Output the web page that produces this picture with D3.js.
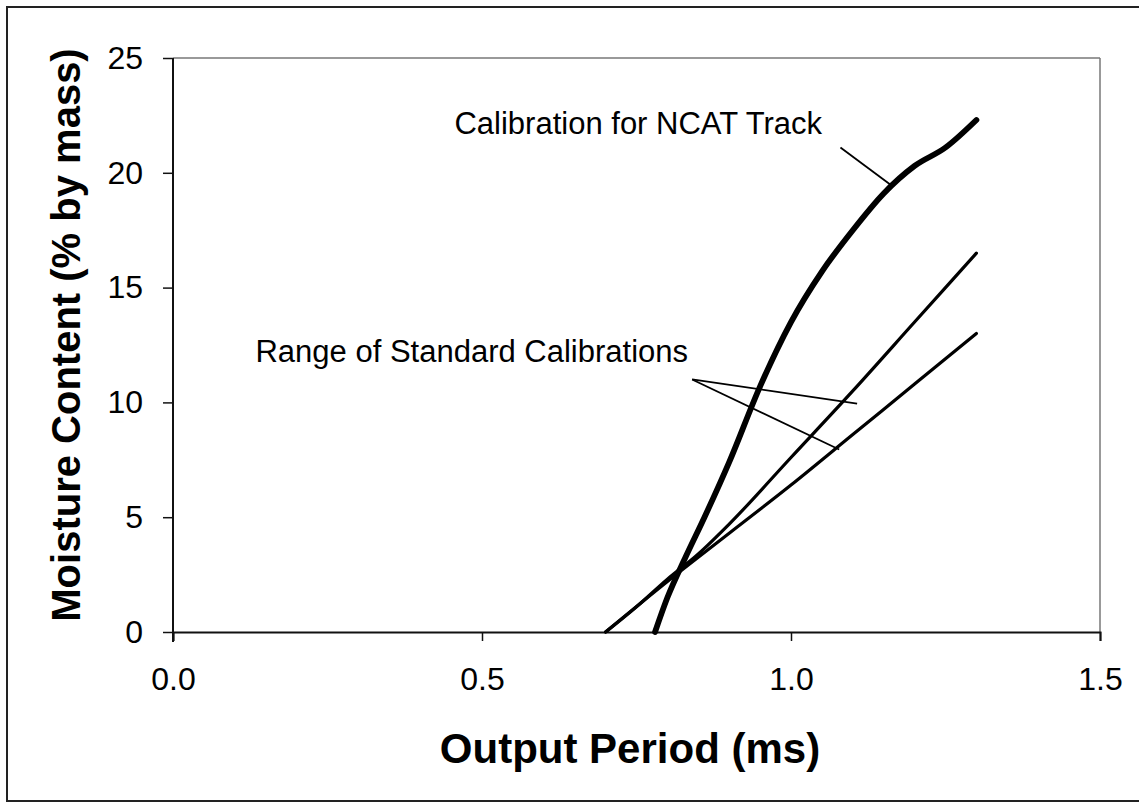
<!DOCTYPE html>
<html>
<head>
<meta charset="utf-8">
<script src="https://cdn.jsdelivr.net/npm/d3@7"></script>
<style>
  body { margin: 0; background: #fff; }
  svg text { font-family: "Liberation Sans", Arial, sans-serif; fill: #000; }
</style>
</head>
<body>
<svg id="chart" width="1139" height="803"></svg>
<script>
// NCAT track calibration (thick curve)
var ncatPeriod   = [0.78, 0.80, 0.83, 0.86, 0.90, 0.95, 1.00, 1.05, 1.10, 1.15, 1.20, 1.25, 1.30];
var ncatMoisture = [0.0, 1.5, 3.3, 5.0, 7.4, 10.7, 13.5, 15.7, 17.5, 19.1, 20.3, 21.1, 22.3];

// range of standard calibrations (two thin lines)
var stdHighPeriod   = [0.70, 0.75, 0.80, 0.85, 0.90, 1.00, 1.10, 1.20, 1.30];
var stdHighMoisture = [0.0, 1.1, 2.3, 3.4, 4.7, 7.6, 10.5, 13.5, 16.5];
var stdLowPeriod    = [0.70, 0.80, 0.90, 1.00, 1.10, 1.20, 1.30];
var stdLowMoisture  = [0.0, 2.2, 4.3, 6.4, 8.6, 10.8, 13.0];

var xTicks = [0, 0.5, 1.0, 1.5];
var yTicks = [0, 5, 10, 15, 20, 25];

var svg = d3.select("#chart"),
    width = +svg.attr("width"),
    height = +svg.attr("height");

var plot = {left: 173, right: 1100, top: 58, bottom: 632};

var x = d3.scaleLinear().domain([0, 1.5]).range([plot.left, plot.right]);
var y = d3.scaleLinear().domain([0, 25]).range([plot.bottom, plot.top]);

// outer frame
svg.append("rect")
    .attr("x", 7).attr("y", 7)
    .attr("width", 1140).attr("height", 794)
    .attr("fill", "none")
    .attr("stroke", "#222")
    .attr("stroke-width", 2);

// plot area frame (top / right are light and dotted in the scan)
svg.append("line")
    .attr("x1", plot.left).attr("x2", plot.right).attr("y1", plot.top).attr("y2", plot.top)
    .attr("stroke", "#777").attr("stroke-width", 1.5);
svg.append("line")
    .attr("x1", plot.right).attr("x2", plot.right).attr("y1", plot.top).attr("y2", plot.bottom)
    .attr("stroke", "#777").attr("stroke-width", 1.5);

var xAxis = svg.append("g")
    .attr("transform", "translate(0," + plot.bottom + ")")
    .call(d3.axisBottom(x).tickValues(xTicks).tickFormat(d3.format(".1f")).tickSize(9).tickPadding(26));

var yAxis = svg.append("g")
    .attr("transform", "translate(" + plot.left + ",0)")
    .call(d3.axisLeft(y).tickValues(yTicks).tickSize(10).tickPadding(20));

[xAxis, yAxis].forEach(function(ax) {
  ax.select(".domain").attr("stroke", "#111").attr("stroke-width", 2);
  ax.selectAll(".tick line").attr("stroke", "#111").attr("stroke-width", 1.5);
  ax.selectAll(".tick text")
      .style("font-family", "'Liberation Sans', Arial, sans-serif")
      .style("font-size", "32px")
      .attr("fill", "#000");
});
// y axis also reaches a little past the x axis like the source
yAxis.select(".domain").attr("d", "M0," + plot.top + "V" + (plot.bottom + 10));

var line = d3.line()
    .x(function(d) { return x(d[0]); })
    .y(function(d) { return y(d[1]); })
    .curve(d3.curveMonotoneX);

function pairs(xs, ys) { return xs.map(function(v, i) { return [v, ys[i]]; }); }

svg.append("path")
    .datum(pairs(stdLowPeriod, stdLowMoisture))
    .attr("d", line)
    .attr("fill", "none").attr("stroke", "#000")
    .attr("stroke-width", 3.2).attr("stroke-linecap", "round");

svg.append("path")
    .datum(pairs(stdHighPeriod, stdHighMoisture))
    .attr("d", line)
    .attr("fill", "none").attr("stroke", "#000")
    .attr("stroke-width", 3.2).attr("stroke-linecap", "round");

svg.append("path")
    .datum(pairs(ncatPeriod, ncatMoisture))
    .attr("d", line)
    .attr("fill", "none").attr("stroke", "#000")
    .attr("stroke-width", 5.8).attr("stroke-linecap", "round");

// annotations
svg.append("text")
    .attr("x", 822).attr("y", 134)
    .attr("text-anchor", "end")
    .style("font-size", "31px")
    .text("Calibration for NCAT Track");

svg.append("line")
    .attr("x1", x(1.08)).attr("y1", y(21.1))
    .attr("x2", x(1.16)).attr("y2", y(19.5))
    .attr("stroke", "#000").attr("stroke-width", 1.8);

svg.append("text")
    .attr("x", 688).attr("y", 362)
    .attr("text-anchor", "end")
    .style("font-size", "31px")
    .text("Range of Standard Calibrations");

svg.append("line")
    .attr("x1", x(0.84)).attr("y1", y(11.0))
    .attr("x2", x(1.107)).attr("y2", y(9.95))
    .attr("stroke", "#000").attr("stroke-width", 1.8);
svg.append("line")
    .attr("x1", x(0.84)).attr("y1", y(11.0))
    .attr("x2", x(1.078)).attr("y2", y(7.95))
    .attr("stroke", "#000").attr("stroke-width", 1.8);

// axis titles
svg.append("text")
    .attr("x", 630).attr("y", 763)
    .attr("text-anchor", "middle")
    .style("font-size", "42px").style("font-weight", "bold")
    .text("Output Period (ms)");

svg.append("text")
    .attr("transform", "translate(80," + ((plot.top + plot.bottom) / 2 - 10) + ") rotate(-90)")
    .attr("text-anchor", "middle")
    .style("font-size", "40px").style("font-weight", "bold")
    .text("Moisture Content (% by mass)");
</script>
</body>
</html>
